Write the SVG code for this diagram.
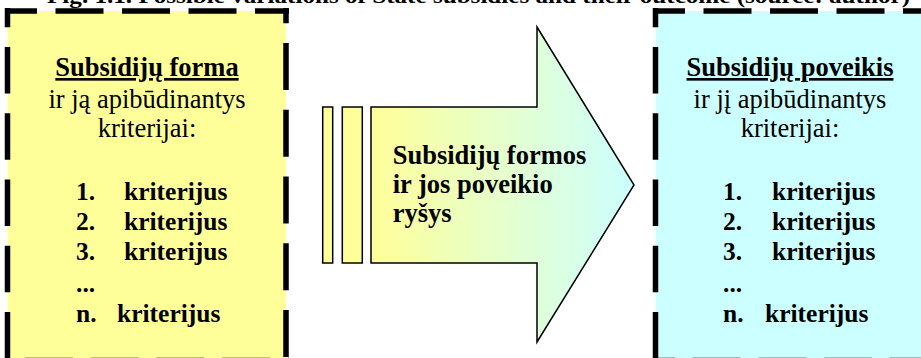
<svg xmlns="http://www.w3.org/2000/svg" width="921" height="358" viewBox="0 0 921 358" font-family="Liberation Serif, DejaVu Serif, serif">
  <defs>
    <linearGradient id="arrowFill" x1="0" y1="0" x2="1" y2="0">
      <stop offset="0" stop-color="#FFFF99"/>
      <stop offset="1" stop-color="#CCFFFF"/>
    </linearGradient>
  </defs>
  <style>
    text { font-family: 'Liberation Serif', 'DejaVu Serif', serif; fill: #000; }
    .head { font-size: 26.5px; font-weight: bold; text-decoration: underline; text-anchor: middle; }
    .sub { font-size: 26.5px; text-anchor: middle; }
    .item { font-size: 25.5px; font-weight: bold; }
    .arrowtxt { font-size: 26.5px; font-weight: bold; }
    .caption { font-size: 22px; font-weight: bold; }
    .dash { stroke: #000; stroke-width: 5.5; fill: none; }
    .plain { stroke: #000; stroke-width: 1.5; }
  </style>

  <!-- figure caption, mostly above the top edge -->
  <text class="caption" x="47" y="3" textLength="863" lengthAdjust="spacingAndGlyphs">Fig. 1.1. Possible variations of State subsidies and their outcome (source: author)</text>

  <!-- left box: subsidy form -->
  <g id="form-box">
    <rect x="7.5" y="11" width="278.5" height="349" fill="#FFFF99"/>
    <line class="dash" x1="5" y1="11" x2="289" y2="11" stroke-dasharray="48 18.5" stroke-dashoffset="16"/>
    <line class="dash" x1="7.5" y1="8" x2="7.5" y2="362" stroke-dasharray="46.5 19.75" stroke-dashoffset="27.25"/>
    <line class="dash" x1="286" y1="8" x2="286" y2="362" stroke-dasharray="47 19.75" stroke-dashoffset="31.75"/>
    <line class="dash" x1="5" y1="360.5" x2="289" y2="360.5" stroke-dasharray="48 17.7" stroke-dashoffset="-20"/>
    <text class="head" x="147" y="76">Subsidijų forma</text>
    <text class="sub" x="147" y="107.5">ir ją apibūdinantys</text>
    <text class="sub" x="147" y="137">kriterijai:</text>
    <text class="item" x="76" y="200">1.</text>
    <text class="item" x="124" y="200">kriterijus</text>
    <text class="item" x="76" y="230">2.</text>
    <text class="item" x="124" y="230">kriterijus</text>
    <text class="item" x="76" y="260">3.</text>
    <text class="item" x="124" y="260">kriterijus</text>
    <text class="item" x="76" y="292">...</text>
    <text class="item" x="76" y="322">n.</text>
    <text class="item" x="117" y="322">kriterijus</text>
  </g>

  <!-- right box: subsidy outcome -->
  <g id="outcome-box">
    <rect x="655.5" y="11" width="269" height="349" fill="#CCFFFF"/>
    <line class="dash" x1="653" y1="11" x2="927" y2="11" stroke-dasharray="48 18.5" stroke-dashoffset="16"/>
    <line class="dash" x1="655.5" y1="8" x2="655.5" y2="362" stroke-dasharray="46.5 19.75" stroke-dashoffset="27.25"/>
    <line class="dash" x1="653" y1="360.5" x2="927" y2="360.5" stroke-dasharray="48 17.7" stroke-dashoffset="26"/>
    <text class="head" x="790" y="76">Subsidijų poveikis</text>
    <text class="sub" x="790" y="107.5">ir jį apibūdinantys</text>
    <text class="sub" x="790" y="137">kriterijai:</text>
    <text class="item" x="723" y="200">1.</text>
    <text class="item" x="772" y="200">kriterijus</text>
    <text class="item" x="723" y="230">2.</text>
    <text class="item" x="772" y="230">kriterijus</text>
    <text class="item" x="723" y="260">3.</text>
    <text class="item" x="772" y="260">kriterijus</text>
    <text class="item" x="723" y="292">...</text>
    <text class="item" x="723" y="322">n.</text>
    <text class="item" x="765" y="322">kriterijus</text>
  </g>

  <!-- striped block arrow linking the two boxes -->
  <g id="connectors">
    <rect class="plain" x="322.7" y="107" width="10" height="156" fill="#FFFF99"/>
    <rect class="plain" x="342.3" y="107" width="20" height="156" fill="#FFFF99"/>
    <polygon class="plain" points="371,107 537,107 537,27 634,185 537,342 537,263 371,263" fill="url(#arrowFill)"/>
    <text class="arrowtxt" x="392.7" y="164">Subsidijų formos</text>
    <text class="arrowtxt" x="392.7" y="193">ir jos poveikio</text>
    <text class="arrowtxt" x="392.7" y="222">ryšys</text>
  </g>
</svg>
